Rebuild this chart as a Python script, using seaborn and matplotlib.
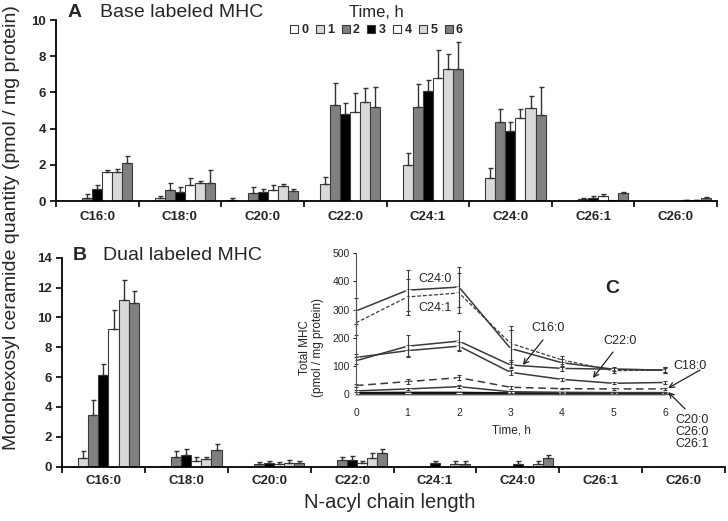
import numpy as np
import pandas as pd
import matplotlib
matplotlib.use("Agg")
import matplotlib.pyplot as plt
import matplotlib.patches as mpatches
from matplotlib.container import BarContainer
import seaborn as sns

sns.set_theme(style="ticks")
plt.rcParams['font.family'] = ['Liberation Sans', 'DejaVu Sans']

# ---------------- data ----------------
chains = ['C16:0', 'C18:0', 'C20:0', 'C22:0', 'C24:1', 'C24:0', 'C26:1', 'C26:0']
times = ['0', '1', '2', '3', '4', '5', '6']
time_colors = ['#ffffff', '#d9d9d9', '#808080', '#000000', '#ffffff', '#d9d9d9', '#808080']

# Panel A (base labeled), rows = chains, columns = time 0..6
base_means = [
    [0, 0, 0.18, 0.65, 1.58, 1.58, 2.12],
    [0, 0.14, 0.61, 0.48, 0.88, 1.0, 1.0],
    [0.08, 0, 0.42, 0.47, 0.6, 0.82, 0.54],
    [0, 0.93, 5.3, 4.8, 4.93, 5.49, 5.21],
    [0, 2.0, 5.2, 6.08, 6.8, 7.3, 7.3],
    [0, 1.25, 4.35, 3.87, 4.57, 5.14, 4.75],
    [0, 0, 0.13, 0.18, 0.3, 0.05, 0.45],
    [0, 0, 0.02, 0, 0.06, 0.05, 0.15],
]
base_errs = [
    [0, 0, 0.2, 0.23, 0.13, 0.17, 0.37],
    [0, 0.16, 0.38, 0.3, 0.38, 0.12, 0.7],
    [0.07, 0, 0.37, 0.19, 0.3, 0.14, 0.15],
    [0, 0.37, 1.24, 0.63, 1.02, 0.77, 1.1],
    [0, 0.65, 1.25, 0.62, 1.55, 0.8, 1.5],
    [0, 0.55, 0.75, 0.48, 0.51, 0.66, 1.53],
    [0, 0, 0.05, 0.07, 0.1, 0, 0.06],
    [0, 0, 0, 0, 0.02, 0.02, 0.08],
]

# Panel B (dual labeled)
dual_means = [
    [0, 0.55, 3.46, 6.14, 9.2, 11.16, 10.94],
    [0, 0.03, 0.67, 0.76, 0.38, 0.49, 1.12],
    [0, 0, 0.15, 0.25, 0.15, 0.27, 0.27],
    [0, 0, 0.45, 0.45, 0.27, 0.6, 0.9],
    [0, 0, 0, 0.22, 0, 0.2, 0.2],
    [0, 0, 0, 0.2, 0, 0.2, 0.55],
    [0, 0, 0, 0, 0, 0, 0],
    [0, 0, 0, 0, 0, 0, 0],
]
dual_errs = [
    [0, 0.52, 1.04, 0.74, 1.28, 1.34, 0.86],
    [0, 0, 0.4, 0.4, 0.25, 0.18, 0.4],
    [0, 0, 0.15, 0.15, 0.15, 0.15, 0.11],
    [0, 0, 0.22, 0.25, 0.1, 0.35, 0.3],
    [0, 0, 0, 0.15, 0, 0.15, 0.15],
    [0, 0, 0, 0.15, 0, 0.15, 0.25],
    [0, 0, 0, 0, 0, 0, 0],
    [0, 0, 0, 0, 0, 0, 0],
]

# Panel C (total MHC over time)
hours = [0, 1, 2, 3, 4, 5, 6]
total_c24_0 = [295, 369, 380, 162, 111, 88, 85]
total_c24_1 = [253, 345, 359, 180, 121, 83, 85]
total_c16_0 = [118, 170, 188, 103, 91, 88, 85]
total_c22_0 = [130, 154, 170, 77, 52, 38, 41]
total_c18_0 = [30, 44, 58, 24, 19, 18, 18]
total_c20_0 = [11, 18, 26, 8, 6, 5, 5]
total_c26_0 = [3, 4, 4, 2, 2, 2, 2]
total_c26_1 = [1, 1, 1, 1, 1, 1, 1]
err_c24_0 = [45, 73, 71, 65, 15, 8, 10]
err_c24_1 = [45, 65, 70, 60, 15, 8, 10]
err_c16_0 = [12, 40, 35, 12, 8, 6, 6]
err_c22_0 = [12, 20, 15, 10, 5, 4, 5]
err_c18_0 = [6, 10, 10, 6, 3, 3, 3]
err_c20_0 = [3, 4, 5, 4, 2, 2, 2]
err_c26_0 = [0, 0, 0, 0, 0, 0, 0]
err_c26_1 = [0, 0, 0, 0, 0, 0, 0]

# ---------------- figure ----------------
W, H = 728, 521
fig = plt.figure(figsize=(W / 100, H / 100), dpi=100)
fig.patch.set_facecolor('white')


def fx(px):
    return px / W


def fy(py):
    return 1 - py / H


axA = fig.add_axes([fx(56), fy(201), (717 - 56) / W, (201 - 20) / H])
axB = fig.add_axes([fx(62), fy(466.7), (725 - 62) / W, (466.7 - 257.7) / H])

GROUP_W = 0.85


def draw_bars(ax, means, errs, ymax):
    rows = [(c, t, means[i][j]) for i, c in enumerate(chains) for j, t in enumerate(times)]
    df = pd.DataFrame(rows, columns=['chain', 'time', 'value'])
    sns.barplot(data=df, x='chain', y='value', hue='time', order=chains, hue_order=times,
                palette=dict(zip(times, time_colors)), saturation=1,
                edgecolor='#3a3a3a', linewidth=0.8, width=GROUP_W, errorbar=None,
                legend=False, ax=ax)
    bw = GROUP_W / len(times)
    bars = [b for c in list(ax.containers) if isinstance(c, BarContainer) for b in c
            if b is not None]
    for bar in bars:
        cx = bar.get_x() + bar.get_width() / 2
        i = int(round(cx))
        j = int(round((cx - i + GROUP_W / 2) / bw - 0.5))
        e = errs[i][j]
        if e > 0:
            ax.errorbar(cx, bar.get_height(), yerr=[[0], [e]], fmt='none',
                        ecolor='#333333', elinewidth=1.0, capsize=1.8, capthick=1.0,
                        zorder=1)
    ax.set_xlim(-0.5, len(chains) - 0.5)
    ax.set_ylim(0, ymax)
    ax.set_yticks(np.arange(0, ymax + 0.1, 2))
    ax.set_xticks(np.arange(-0.5, len(chains), 1))
    ax.set_xticklabels([])
    ax.set_xticks(range(len(chains)), labels=chains, minor=True)
    ax.tick_params(axis='x', which='major', length=4, width=1.2, direction='out', color='black')
    ax.tick_params(axis='x', which='minor', length=0, labelsize=9.5)
    ax.tick_params(axis='y', which='major', length=4, width=1.2, direction='out',
                   labelsize=9.5, pad=3, color='black')
    for lab in ax.get_xticklabels(minor=True) + ax.get_yticklabels():
        lab.set_fontweight('bold')
    ax.set_xlabel('')
    ax.set_ylabel('')
    for s in ['top', 'right']:
        ax.spines[s].set_visible(False)
    for s in ['left', 'bottom']:
        ax.spines[s].set_linewidth(1.3)
        ax.spines[s].set_color('black')
    ax.set_facecolor('none')


draw_bars(axA, base_means, base_errs, 10)
draw_bars(axB, dual_means, dual_errs, 14)
axA.tick_params(axis='x', which='minor', pad=7)
axB.tick_params(axis='x', which='minor', pad=6)

# legend
handles = [mpatches.Patch(facecolor=c, edgecolor='#3a3a3a', linewidth=0.8) for c in time_colors]
leg = axA.legend(handles, times, loc='upper center', bbox_to_anchor=(0.485, 1.11),
                 ncol=7, title='Time, h', frameon=False, handlelength=0.65, handleheight=0.65,
                 handletextpad=0.25, columnspacing=0.6, borderaxespad=0,
                 prop={'weight': 'bold', 'size': 9}, title_fontsize=12)
leg._legend_box.sep = 3

# panel labels and titles
fig.text(fx(68), fy(12.5), 'A', fontsize=14, fontweight='bold', ha='left', va='center')
fig.text(fx(100), fy(12.5), 'Base labeled MHC', fontsize=14, ha='left', va='center')
fig.text(fx(73), fy(255), 'B', fontsize=14, fontweight='bold', ha='left', va='center')
fig.text(fx(103), fy(255), 'Dual labeled MHC', fontsize=14, ha='left', va='center')
fig.text(fx(12), fy(228), 'Monohexosyl ceramide quantity (pmol / mg protein)', fontsize=14,
         rotation=90, ha='center', va='center')
fig.text(fx(390), fy(502), 'N-acyl chain length', fontsize=14.5, ha='center', va='center')

# ---------------- inset C ----------------
px_per_h = 51.5
axC = fig.add_axes([fx(356), fy(394), 6.15 * px_per_h / W, (394 - 253.3) / H])
axC.set_facecolor('none')

series = [
    (total_c26_1, err_c26_1, '#b0b0b0', '-', 2.6),
    (total_c26_0, err_c26_0, '#111111', '-', 1.8),
    (total_c20_0, err_c20_0, '#3a3a3a', '-', 1.1),
    (total_c18_0, err_c18_0, '#3a3a3a', (0, (5, 3)), 1.1),
    (total_c22_0, err_c22_0, '#3a3a3a', '-', 1.1),
    (total_c16_0, err_c16_0, '#3a3a3a', '-', 1.1),
    (total_c24_1, err_c24_1, '#3a3a3a', (0, (3, 1.5)), 0.9),
    (total_c24_0, err_c24_0, '#3a3a3a', '-', 1.1),
]
for vals, errs, col, ls, lw in series:
    sns.lineplot(x=hours, y=vals, ax=axC, color=col, linestyle=ls, linewidth=lw,
                 clip_on=False, marker='_', markersize=4, markeredgewidth=1.0)
    if max(errs) > 0:
        axC.errorbar(hours, vals, yerr=errs, fmt='none', ecolor='#3a3a3a', elinewidth=0.8,
                     capsize=1.5, capthick=0.8, clip_on=False)

axC.set_xlim(0, 6.15)
axC.set_ylim(0, 500)
axC.set_xticks(hours)
axC.set_yticks(np.arange(0, 501, 100))
axC.tick_params(axis='x', length=0, pad=10, labelsize=7.5)
axC.tick_params(axis='y', length=2.5, width=0.8, pad=2, labelsize=7.5, direction='out')
for s in ['top', 'right']:
    axC.spines[s].set_visible(False)
axC.spines['left'].set_linewidth(0.8)
axC.spines['left'].set_color('#555555')
axC.spines['bottom'].set_linewidth(0.8)
axC.spines['bottom'].set_color('#555555')
axC.set_ylabel('Total MHC\n(pmol / mg protein)', fontsize=8.5, linespacing=1.1)
axC.yaxis.set_label_coords(-0.10, 0.33)
axC.set_xlabel('Time, h', fontsize=8.5)
axC.xaxis.set_label_coords(0.49, -0.215)

# annotations
tfs = 9
axC.text(1.53, 408, 'C24:0', fontsize=tfs, ha='center', va='center')
axC.text(1.53, 305, 'C24:1', fontsize=tfs, ha='center', va='center')
axC.text(4.97, 375, 'C', fontsize=14, fontweight='bold', ha='center', va='center')
axC.text(3.73, 234, 'C16:0', fontsize=tfs, ha='center', va='center')
axC.text(5.13, 188, 'C22:0', fontsize=tfs, ha='center', va='center')
axC.text(6.49, 100, 'C18:0', fontsize=tfs, ha='center', va='center', clip_on=False)
axC.text(6.52, -92, 'C20:0', fontsize=tfs, ha='center', va='center', clip_on=False)
axC.text(6.52, -135, 'C26:0', fontsize=tfs, ha='center', va='center', clip_on=False)
axC.text(6.52, -176, 'C26:1', fontsize=tfs, ha='center', va='center', clip_on=False)
arrow_kw = dict(arrowstyle='->', color='#222222', lw=0.9, shrinkA=0, shrinkB=0,
                mutation_scale=9)
for start, tip in [((3.63, 192), (3.24, 103)), ((4.99, 149), (4.60, 57)),
                   ((6.68, 85), (6.06, 21)), ((6.39, -53), (6.06, 7))]:
    axC.annotate('', xy=tip, xytext=start, arrowprops=arrow_kw, annotation_clip=False)

fig.savefig('out.png', dpi=100, facecolor='white')
